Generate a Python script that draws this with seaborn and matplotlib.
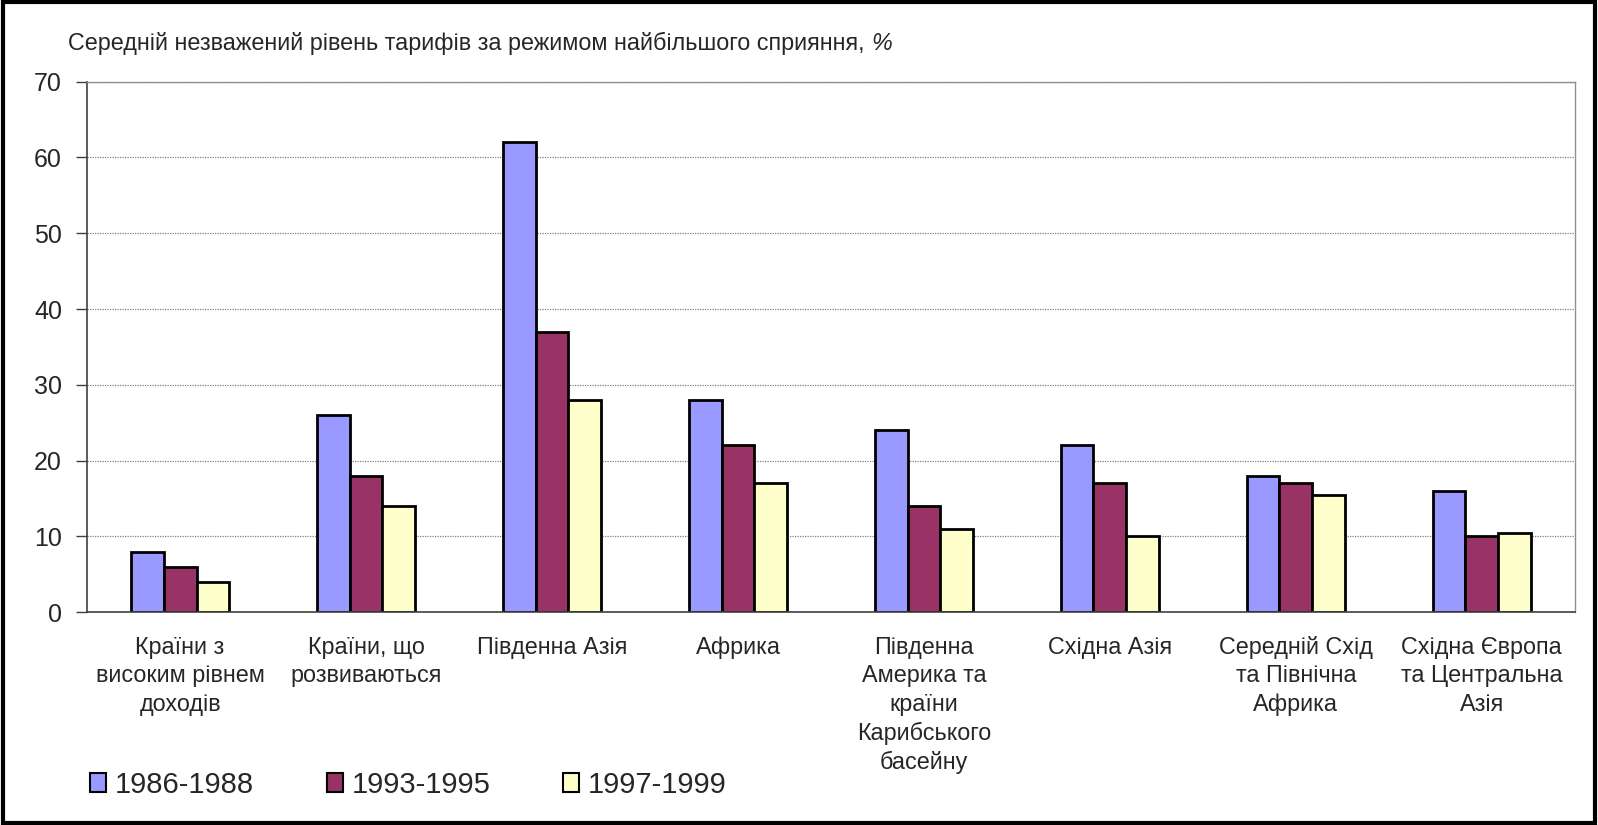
import pandas as pd
import numpy as np
import matplotlib
matplotlib.use("Agg")
import matplotlib.pyplot as plt
import seaborn as sns
from matplotlib.patches import Rectangle

categories = [
    "Країни з\nвисоким рівнем\nдоходів",
    "Країни, що\nрозвиваються",
    "Південна Азія",
    "Африка",
    "Південна\nАмерика та\nкраїни\nКарибського\nбасейну",
    "Східна Азія",
    "Середній Схід\nта Північна\nАфрика",
    "Східна Європа\nта Центральна\nАзія",
]
periods = ["1986-1988", "1993-1995", "1997-1999"]
v_1986 = [8, 26, 62, 28, 24, 22, 18, 16]
v_1993 = [6, 18, 37, 22, 14, 17, 17, 10]
v_1997 = [4, 14, 28, 17, 11, 10, 15.5, 10.5]
colors = ["#9999FF", "#993366", "#FFFFCC"]
title = "Середній незважений рівень тарифів за режимом найбільшого сприяння, "

# long table for seaborn
rows = []
for p, vals in zip(periods, [v_1986, v_1993, v_1997]):
    for c, v in zip(categories, vals):
        rows.append({"category": c, "period": p, "value": v})
df = pd.DataFrame(rows)

sns.set_style("white")
plt.rcParams["font.family"] = ["Liberation Sans", "DejaVu Sans"]

fig = plt.figure(figsize=(15.98, 8.25), dpi=100)
ax = fig.add_axes([0.0545, 0.258, 0.931, 0.643])

sns.barplot(data=df, x="category", y="value", hue="period", palette=colors,
            order=categories, hue_order=periods, width=0.53, dodge=True,
            edgecolor="black", linewidth=2, saturation=1, ax=ax, legend=True)

ax.set_ylim(0, 70)
ax.set_yticks(range(0, 71, 10))
ax.set_xlim(-0.5, len(categories) - 0.5)
ax.yaxis.grid(True, color="#808080", linestyle=(0, (1, 1)), linewidth=0.9)
ax.set_axisbelow(True)
ax.set_xlabel("")
ax.set_ylabel("")
ax.tick_params(axis="y", labelsize=18, length=8, width=1, color="#404040",
               left=True, direction="out", pad=10)
ax.tick_params(axis="x", labelsize=16.8, length=0, pad=17)
for lbl in ax.get_xticklabels():
    lbl.set_verticalalignment("top")
    lbl.set_linespacing(1.31)

for side in ["left", "bottom"]:
    ax.spines[side].set_color("#404040")
    ax.spines[side].set_linewidth(1.2)
for side in ["top", "right"]:
    ax.spines[side].set_color("#909090")
    ax.spines[side].set_linewidth(1.0)

leg = ax.legend(loc="center left", bbox_to_anchor=(0.047, 0.049), bbox_transform=fig.transFigure,
                ncol=3, frameon=False, fontsize=21, handlelength=0.55, handleheight=0.6,
                handletextpad=0.3, columnspacing=2.5, borderpad=0)
for h in leg.legend_handles:
    h.set_linewidth(1.5)
    h.set_edgecolor("black")

t = fig.text(0.0425, 0.947, title, fontsize=16.8, ha="left", va="center")
fig.canvas.draw()
bb = t.get_window_extent().transformed(fig.transFigure.inverted())
fig.text(bb.x1, 0.947, "%", fontsize=16.8, ha="left", va="center", style="italic")

fig.patches.append(Rectangle((0.002, 0.003), 0.996, 0.994, transform=fig.transFigure,
                             fill=False, edgecolor="black", linewidth=3))

fig.savefig("out.png", dpi=100)
